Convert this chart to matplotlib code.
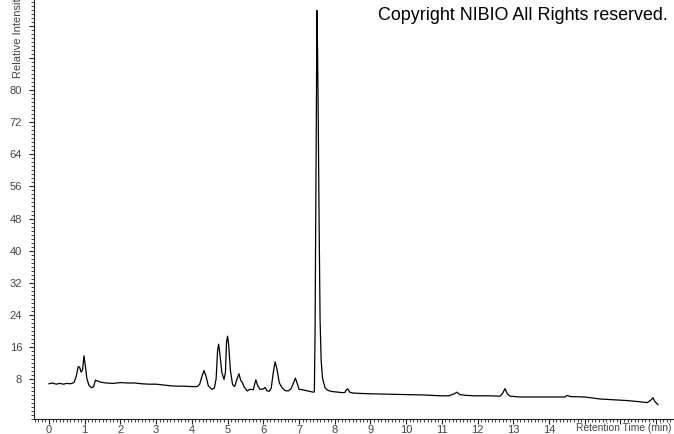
import matplotlib
matplotlib.use("Agg")
import matplotlib.pyplot as plt
from matplotlib.ticker import MultipleLocator, FixedLocator, FixedFormatter

# Chromatogram trace (retention time in min, relative intensity)
rt = [0.0, 0.1, 0.2, 0.3, 0.4, 0.5, 0.6, 0.7, 0.76, 0.82, 0.86, 0.9, 0.94, 0.98,
      1.02, 1.06, 1.12, 1.2, 1.25, 1.3, 1.36, 1.45, 1.6, 1.8, 2.0, 2.2, 2.4, 2.6,
      2.8, 3.0, 3.2, 3.4, 3.6, 3.8, 4.0, 4.15, 4.22, 4.28, 4.34, 4.4, 4.46, 4.56,
      4.63, 4.68, 4.72, 4.75, 4.78, 4.84, 4.9, 4.94, 4.97, 5.0, 5.03, 5.08, 5.14,
      5.2, 5.26, 5.32, 5.37, 5.41, 5.46, 5.55, 5.62, 5.66, 5.72, 5.79, 5.84, 5.91,
      6.0, 6.05, 6.1, 6.16, 6.22, 6.28, 6.33, 6.38, 6.45, 6.52, 6.61, 6.7, 6.78,
      6.85, 6.9, 6.95, 7.0, 7.1, 7.2, 7.3, 7.4, 7.43, 7.45, 7.47, 7.49, 7.5, 7.52,
      7.54, 7.56, 7.59, 7.62, 7.66, 7.73, 7.8, 7.9, 8.0, 8.1, 8.2, 8.28, 8.33,
      8.37, 8.42, 8.5, 8.7, 9.0, 9.5, 10.0, 10.5, 10.95, 11.2, 11.35, 11.42, 11.5,
      11.7, 11.89, 12.3, 12.63, 12.7, 12.77, 12.83, 12.91, 13.2, 13.75, 14.2,
      14.45, 14.5, 14.6, 15.0, 15.43, 15.8, 16.2, 16.55, 16.75, 16.85, 16.91,
      16.97, 17.05]
intensity = [6.7, 6.9, 6.6, 6.8, 6.6, 6.8, 6.7, 7.0, 8.5, 11.0, 10.8, 9.6, 10.2,
             13.7, 11.0, 8.0, 6.3, 5.7, 6.0, 7.6, 7.4, 7.1, 6.9, 6.8, 7.0, 6.9,
             6.9, 6.7, 6.6, 6.6, 6.4, 6.2, 6.1, 6.1, 6.0, 6.0, 6.6, 8.5, 10.0, 8.5,
             6.2, 5.3, 5.6, 8.0, 15.0, 16.6, 14.5, 9.5, 7.8, 9.5, 17.0, 18.6, 16.5,
             10.0, 6.5, 6.0, 7.8, 9.2, 7.5, 7.1, 6.0, 4.9, 5.3, 5.3, 5.2, 7.7, 6.3,
             5.3, 5.4, 5.8, 5.0, 4.8, 5.5, 9.5, 12.2, 10.5, 6.9, 5.8, 5.0, 4.9, 5.5,
             7.0, 8.1, 6.8, 5.3, 5.2, 5.0, 4.8, 4.6, 4.7, 20.0, 50.0, 80.0, 100.0,
             90.0, 72.0, 50.0, 22.7, 12.5, 8.0, 5.7, 5.1, 4.8, 4.7, 4.6, 4.5, 4.5,
             5.2, 5.4, 4.6, 4.4, 4.3, 4.2, 4.1, 4.0, 3.9, 3.7, 3.7, 4.2, 4.6, 4.0,
             3.8, 3.7, 3.7, 3.6, 4.3, 5.5, 4.2, 3.6, 3.4, 3.4, 3.4, 3.4, 3.8, 3.5,
             3.4, 2.9, 2.7, 2.5, 2.2, 2.0, 2.6, 3.2, 2.2, 1.5]

x_major = list(range(0, 18))
x_labels = [str(v) for v in range(0, 15)] + ["", "", ""]
y_major = list(range(8, 100, 8))
y_labels = [str(v) for v in range(8, 81, 8)] + ["", ""]

font = "Liberation Sans"
tick_color = "#444444"

fig = plt.figure(figsize=(6.74, 4.34), dpi=100)
ax = fig.add_axes([34 / 674, 15 / 434, 1 - 34 / 674, 1 - 15 / 434])

ax.plot(rt, intensity, color="black", linewidth=0.9)

ax.set_xlim(-0.42, 17.5)
ax.set_ylim(-2.1, 102.6)

for side in ["top", "right"]:
    ax.spines[side].set_visible(False)
for side in ["left", "bottom"]:
    ax.spines[side].set_color("#222222")
    ax.spines[side].set_linewidth(0.8)

ax.xaxis.set_major_locator(FixedLocator(x_major))
ax.xaxis.set_major_formatter(FixedFormatter(x_labels))
ax.xaxis.set_minor_locator(MultipleLocator(0.1))
ax.yaxis.set_major_locator(FixedLocator(y_major))
ax.yaxis.set_major_formatter(FixedFormatter(y_labels))
ax.yaxis.set_minor_locator(MultipleLocator(1))

ax.tick_params(which="major", length=3.5, width=0.8, color="#222222",
               labelsize=8, labelcolor=tick_color)
ax.tick_params(which="minor", length=2.2, width=0.6, color="#222222")
ax.tick_params(axis="x", pad=0.5)
ax.tick_params(axis="y", pad=5)
for lab in ax.get_xticklabels() + ax.get_yticklabels():
    lab.set_fontfamily(font)

# y label runs off the top edge, as in the reference
fig.text(18 / 674, 1 - 78 / 434, "Relative Intensity", rotation=90,
         ha="center", va="bottom", fontsize=8, color=tick_color, fontfamily=font)
fig.text(672 / 674, 1 - 428 / 434, "Retention Time (min)", ha="right",
         va="center", fontsize=7.4, color=tick_color, fontfamily=font)
fig.text(668 / 674, 1 - 15 / 434, "Copyright NIBIO All Rights reserved.",
         ha="right", va="center", fontsize=12.9, color="black", fontfamily=font)

fig.savefig("out.png", dpi=100)
